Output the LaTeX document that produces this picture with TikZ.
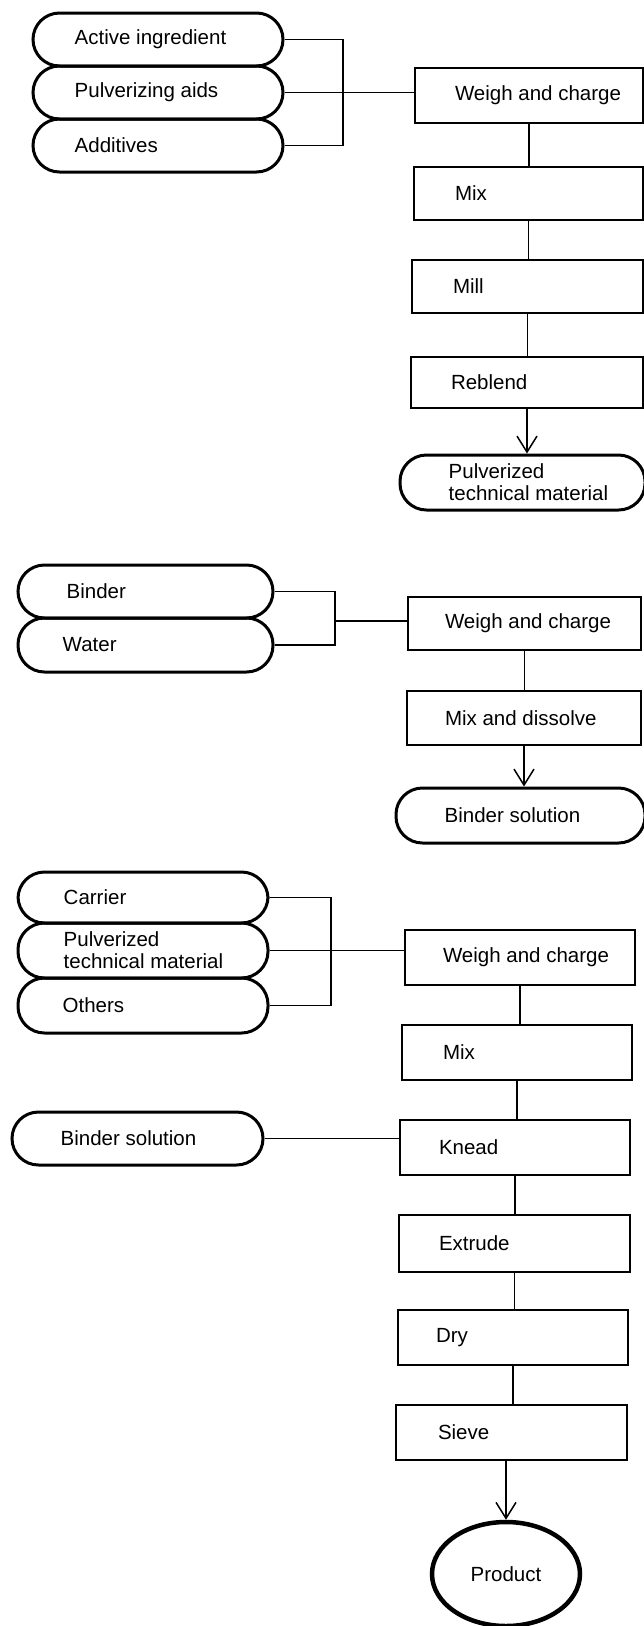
\documentclass[tikz,border=0pt]{standalone}
\usepackage{fontspec}
\setmainfont{Liberation Sans}
\usetikzlibrary{arrows.meta,shapes.geometric}

\begin{document}
\begin{tikzpicture}[x=1pt,y=-1pt,
  every node/.style={font=\fontsize{20.5}{22}\selectfont},
  pill/.style={draw, line width=3pt, rectangle, rounded corners=26.5pt, inner sep=0pt},
  stepbox/.style={draw, line width=2.4pt, rectangle, inner sep=0pt},
  txt/.style={anchor=west, inner sep=0pt, align=left},
  link/.style={line width=1.5pt},
  flow/.style={link, -{Straight Barb[length=16pt,width=20pt]}},
  endpoint/.style={draw, line width=4.5pt, ellipse, inner sep=0pt},
]
\useasboundingbox (0,0) rectangle (644,1626);

% ---------- Pulverized technical material ----------
\node[pill, minimum width=250pt, minimum height=53pt,
      label={[txt,xshift=43pt]west:Active ingredient}] (ai) at (158,39.5) {};
\node[pill, minimum width=250pt, minimum height=53pt,
      label={[txt,xshift=43pt]west:Pulverizing aids}] (pa) at (158,92.5) {};
\node[pill, minimum width=250pt, minimum height=53pt,
      label={[txt,xshift=43pt]west:Additives}] (ad) at (158,145.5) {};
\coordinate (j1) at (343,92.5);

\node[stepbox, minimum width=228pt, minimum height=55pt,
      label={[txt,xshift=41pt]west:Weigh and charge}] (wc1) at (529,95.5) {};
\node[stepbox, minimum width=229pt, minimum height=53pt,
      label={[txt,xshift=42pt]west:Mix}] (mx1) at (528.5,193.5) {};
\node[stepbox, minimum width=231pt, minimum height=53pt,
      label={[txt,xshift=42pt]west:Mill}] (ml) at (527.5,286.5) {};
\node[stepbox, minimum width=232pt, minimum height=51pt,
      label={[txt,xshift=41pt]west:Reblend}] (rb) at (527,382.5) {};
\node[pill, minimum width=245pt, minimum height=55pt,
      label={[txt,xshift=50pt]west:Pulverized\\technical material}] (pt) at (522.5,482.5) {};

\draw[link] (ai.east) -| (j1) |- (ad.east);
\draw[link] (pa.east) -- (pa.east -| wc1.west);
\draw[link] (wc1.south) -- (wc1.south |- mx1.north);
\draw[link] (mx1.south) -- (mx1.south |- ml.north);
\draw[link] (ml.south) -- (ml.south |- rb.north);
\draw[flow] (rb.south) -- (rb.south |- pt.north);

% ---------- Binder solution ----------
\node[pill, minimum width=255pt, minimum height=53pt,
      label={[txt,xshift=50pt]west:Binder}] (bi) at (145.5,591.5) {};
\node[pill, minimum width=255pt, minimum height=54pt,
      label={[txt,xshift=46pt]west:Water}] (wa) at (145.5,645) {};
\coordinate (j2) at (335,621);

\node[stepbox, minimum width=233pt, minimum height=53pt,
      label={[txt,xshift=38pt]west:Weigh and charge}] (wc2) at (524.5,623.5) {};
\node[stepbox, minimum width=234pt, minimum height=54pt,
      label={[txt,xshift=39pt]west:Mix and dissolve}] (md) at (524,718) {};
\node[pill, minimum width=249pt, minimum height=55pt,
      label={[txt,xshift=50pt]west:Binder solution}] (bs1) at (520.5,815.5) {};

\draw[link] (bi.east) -| (j2) |- (wa.east);
\draw[link] (j2) -- (j2 -| wc2.west);
\draw[link] (wc2.south) -- (wc2.south |- md.north);
\draw[flow] (md.south) -- (md.south |- bs1.north);

% ---------- Granules ----------
\node[pill, minimum width=250pt, minimum height=51pt,
      label={[txt,xshift=47pt]west:Carrier}] (ca) at (143,897.5) {};
\node[pill, minimum width=250pt, minimum height=55pt,
      label={[txt,xshift=47pt]west:Pulverized\\technical material}] (pm) at (143,950.5) {};
\node[pill, minimum width=250pt, minimum height=55pt,
      label={[txt,xshift=46pt]west:Others}] (ot) at (143,1005.5) {};
\coordinate (j3) at (331,953);

\node[stepbox, minimum width=230pt, minimum height=55pt,
      label={[txt,xshift=39pt]west:Weigh and charge}] (wc3) at (520,957.5) {};
\node[stepbox, minimum width=230pt, minimum height=55pt,
      label={[txt,xshift=42pt]west:Mix}] (mx3) at (517,1052.5) {};
\node[pill, minimum width=251pt, minimum height=53pt,
      label={[txt,xshift=50pt]west:Binder solution}] (bs2) at (137.5,1138.5) {};
\node[stepbox, minimum width=230pt, minimum height=55pt,
      label={[txt,xshift=40pt]west:Knead}] (kn) at (515,1147.5) {};
\node[stepbox, minimum width=231pt, minimum height=57pt,
      label={[txt,xshift=41pt]west:Extrude}] (ex) at (514.5,1243.5) {};
\node[stepbox, minimum width=230pt, minimum height=55pt,
      label={[txt,xshift=39pt]west:Dry}] (dr) at (513,1337.5) {};
\node[stepbox, minimum width=231pt, minimum height=55pt,
      label={[txt,xshift=43pt]west:Sieve}] (sv) at (511.5,1432.5) {};
\node[endpoint, minimum width=148pt, minimum height=104pt] (pr) at (506,1574) {Product};

\draw[link] (ca.east) -| (j3) |- (ot.east);
\draw[link] (pm.east) -- (pm.east -| wc3.west);
\draw[link] (wc3.south) -- (wc3.south |- mx3.north);
\draw[link] (mx3.south) -- (mx3.south |- kn.north);
\draw[link] (bs2.east) -- (bs2.east -| kn.west);
\draw[link] (kn.south) -- (kn.south |- ex.north);
\draw[link] (ex.south) -- (ex.south |- dr.north);
\draw[link] (dr.south) -- (dr.south |- sv.north);
\draw[flow] (sv.south -| pr.north) -- (pr.north);
\end{tikzpicture}
\end{document}
